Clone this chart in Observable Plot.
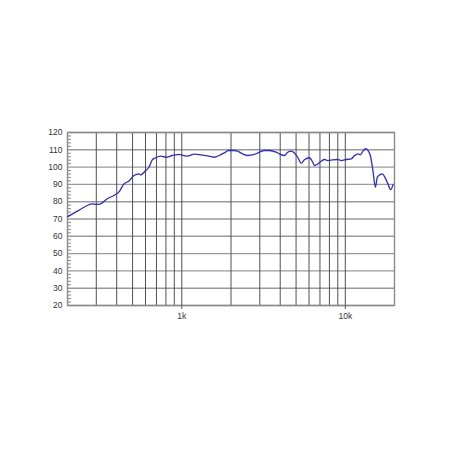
<!DOCTYPE html>
<html><head><meta charset="utf-8">
<script src="https://cdn.jsdelivr.net/npm/d3@7"></script>
<script src="https://cdn.jsdelivr.net/npm/@observablehq/plot@0.6"></script>
<style>
html,body{margin:0;padding:0;background:#fff;}
#chart{width:450px;height:450px;}
</style></head>
<body><div id="chart"></div>
<script>
const freqs = [201,234,264,283,299,319,350,384,412,443,475,510,547,560,601,630,660,692,743,798,875,919,962,1008,1082,1190,1308,1436,1578,1694,1818,1931,2094,2193,2354,2525,2777,2980,3198,3434,3775,3953,4243,4445,4665,4887,5119,5370,5627,6040,6326,6481,6790,7123,7465,7820,8393,9010,9447,10140,10883,11400,11950,12360,12820,13320,13760,14230,14760,15280,15710,16230,16860,17660,18240,18960,19590];
const spl = [71.4,75,77.8,78.8,78.4,78.8,81.7,83.6,85.5,90.3,91.9,95.1,96.1,95.5,98,99.9,104.2,105.4,106.3,105.7,106.7,107.1,107.3,106.9,106.3,107.5,107.1,106.5,105.7,106.7,108.2,109.6,109.6,109.2,107.7,106.7,107.3,108.6,109.6,109.6,108.6,107.7,106.7,108.6,109.2,108.2,105.7,102.3,104.2,105.4,102.8,100.9,101.8,103.4,104.4,103.8,104.2,104.4,103.8,104.4,104.8,106.7,107.7,107.1,109.2,110.6,109.6,106.7,98,88.4,94.2,95.5,96.1,93.2,90.3,87,89.9];
const yTicks = [20,30,40,50,60,70,80,90,100,110,120];
const yMinor = d3.range(22,120,2).filter(v => v % 10 !== 0);
const xGrid = [300,400,500,600,700,800,900,1000,2000,3000,4000,5000,6000,7000,8000,9000,10000];
const xTickVals = [1000,10000];
const xTickLabels = ["1k","10k"];

const data = freqs.map((f,i) => ({f, v: spl[i]}));

const chart = Plot.plot({
  width: 450, height: 450,
  marginLeft: 67, marginRight: 56, marginTop: 132, marginBottom: 145,
  style: {fontFamily: "Liberation Sans, Arial, sans-serif", fontSize: "8.5px", color: "#333", background: "#fff"},
  x: {type: "log", domain: [200, 20000]},
  y: {domain: [20, 120]},
  marks: [
    Plot.ruleY(yTicks, {stroke: "#9a9a9a", strokeWidth: 1.4}),
    Plot.ruleX(xGrid, {stroke: "#505050", strokeWidth: 1}),
    Plot.axisY(yMinor, {tickSize: 4, dx: 4, text: null, label: null, stroke: "#888"}),
    Plot.frame({stroke: "#8a8a8a", strokeWidth: 1.4}),
    Plot.line(data, {x: "f", y: "v", stroke: "#2a2ad8", strokeWidth: 1.3, curve: "monotone-x"}),
    Plot.axisY(yTicks, {tickSize: 0, tickPadding: 5, label: null, fontSize: 8.5, fill: "#333"}),
    Plot.axisX(xTickVals, {tickSize: 4, tickPadding: 3, label: null, tickFormat: (d) => xTickLabels[xTickVals.indexOf(d)], fontSize: 8.5, fill: "#333", stroke: "#555"})
  ]
});
document.getElementById("chart").appendChild(chart);
</script>
</body></html>
